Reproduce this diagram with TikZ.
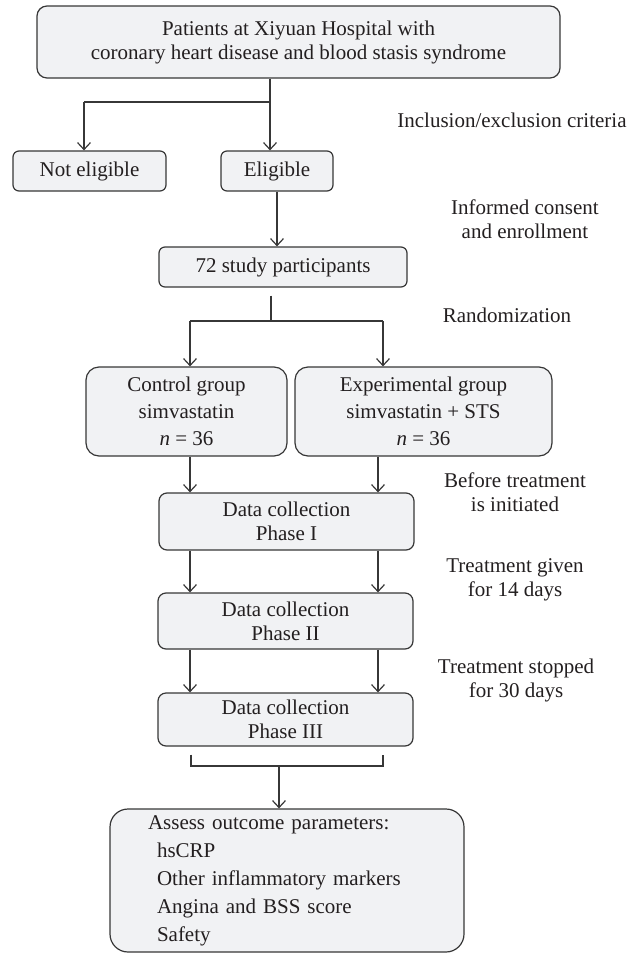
\documentclass[tikz,border=0pt]{standalone}
\usepackage{fontspec}
\setmainfont{Liberation Serif}
\usetikzlibrary{arrows.meta}
\definecolor{boxfill}{RGB}{241,242,244}
\definecolor{linegray}{RGB}{55,55,55}
\definecolor{inkgray}{RGB}{35,31,32}

\begin{document}
\begin{tikzpicture}[x=0.5pt,y=-0.5pt,
  box/.style={draw=linegray,fill=boxfill,line width=0.6pt,align=center,inner sep=0pt,text=inkgray,font=\fontsize{10.5}{12}\selectfont},
  link/.style={draw=linegray,line width=0.6pt},
  arr/.style={link,-{Straight Barb[length=3.5pt,width=6.5pt]}},
  note/.style={align=center,inner sep=0pt,text=inkgray,font=\fontsize{10.5}{12}\selectfont}]

\useasboundingbox (0,0) rectangle (639,953);

\node[box,rounded corners=5pt,minimum width=261.5pt,minimum height=36pt] (top) at (298.5,42)
  {Patients at Xiyuan Hospital with\\coronary heart disease and blood stasis syndrome};
\node[box,rounded corners=3pt,minimum width=76.5pt,minimum height=20pt] (noteli) at (89.5,171) {Not eligible};
\node[box,rounded corners=3pt,minimum width=56pt,minimum height=20pt] (eli) at (277,171) {Eligible};
\node[box,rounded corners=3pt,minimum width=124pt,minimum height=20pt] (part) at (283,267) {72 study participants};
\node[box,rounded corners=6.5pt,minimum width=100.5pt,minimum height=44.5pt,font=\fontsize{10.5}{13.5}\selectfont] (ctrl) at (186.5,411.5)
  {Control group\\simvastatin\\\textit{n} = 36};
\node[box,rounded corners=6.5pt,minimum width=128.5pt,minimum height=44.5pt,font=\fontsize{10.5}{13.5}\selectfont] (expt) at (423.5,411.5)
  {Experimental group\\simvastatin + STS\\\textit{n} = 36};
\node[box,rounded corners=4pt,minimum width=127.5pt,minimum height=28.5pt] (ph1) at (286.5,521.5) {Data collection\\Phase I};
\node[box,rounded corners=4pt,minimum width=127.5pt,minimum height=28pt] (ph2) at (285.5,621) {Data collection\\Phase II};
\node[box,rounded corners=4pt,minimum width=127.5pt,minimum height=26.5pt] (ph3) at (285.5,719.5) {Data collection\\Phase III};
\node[box,rounded corners=9pt,minimum height=71.5pt,text width=139pt,inner xsep=19pt,align=left,font=\fontsize{10.5}{14}\selectfont] (assess) at (287,880.5)
  {Assess outcome parameters:\\\hspace*{4.5pt}hsCRP\\\hspace*{4.5pt}Other inflammatory markers\\\hspace*{4.5pt}Angina and BSS score\\\hspace*{4.5pt}Safety};

\node[note] (crit) at (512,120) {Inclusion/exclusion criteria};
\node[note] (consent) at (525,219) {Informed consent\\and enrollment};
\node[note] (rand) at (507,315) {Randomization};
\node[note] (before) at (515,492) {Before treatment\\is initiated};
\node[note] (given) at (515,580) {Treatment given\\for 14 days};
\node[note] (stopped) at (516,680) {Treatment stopped\\for 30 days};

\coordinate (fork1) at (270,102);
\coordinate (forkL) at (84,102);
\draw[link] (top.south -| fork1) -- (fork1) -- (forkL);
\draw[arr] (forkL) -- (forkL |- noteli.north);
\draw[arr] (fork1) -- (fork1 |- eli.north);
\draw[arr] (eli.south) -- (eli.south |- part.north);

\coordinate (fork2) at (271,321);
\coordinate (forkL2) at (190,321);
\coordinate (forkR2) at (383,321);
\draw[link] ([yshift=-4pt]part.south -| fork2) -- (fork2);
\draw[link] (forkL2) -- (forkR2);
\draw[arr] (forkL2) -- (forkL2 |- ctrl.north);
\draw[arr] (forkR2) -- (forkR2 |- expt.north);

\coordinate (laneL) at (190,0);
\coordinate (laneR) at (378,0);
\foreach \a/\b in {ctrl/ph1,ph1/ph2,ph2/ph3}
  \draw[arr] (\a.south -| laneL) -- (\b.north -| laneL);
\foreach \a/\b in {expt/ph1,ph1/ph2,ph2/ph3}
  \draw[arr] (\a.south -| laneR) -- (\b.north -| laneR);

\coordinate (brL) at (191,766);
\coordinate (brR) at (383,766);
\coordinate (brM) at (279,766);
\draw[link] ([yshift=-4pt]ph3.south -| brL) -- (brL) -- (brR) -- ([yshift=-4pt]ph3.south -| brR);
\draw[arr] (brM) -- (brM |- assess.north);
\end{tikzpicture}
\end{document}
